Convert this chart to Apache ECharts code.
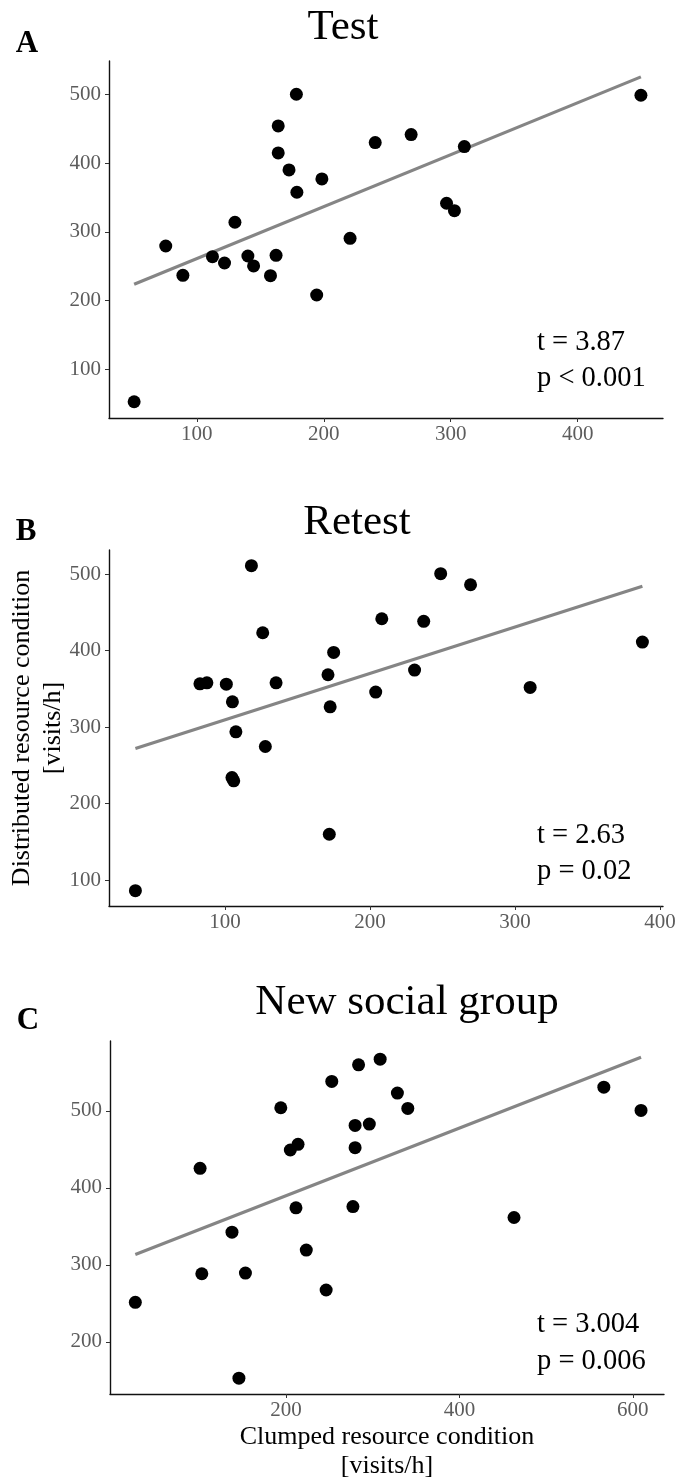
<!DOCTYPE html>
<html>
<head>
<meta charset="utf-8">
<title>Visits per hour: clumped vs distributed resource condition</title>
<script src="https://cdn.jsdelivr.net/npm/echarts@6/dist/echarts.min.js"></script>
<style>
  html, body { margin: 0; padding: 0; background: #ffffff; }
  #chart { width: 675px; height: 1479px; }
</style>
</head>
<body>
<div id="chart"></div>
<script>
// Individual birds: [clumped visits/h, distributed visits/h]
const testPoints = [
  [50.6, 53], [75.5, 279.4], [89, 236.8], [112.3, 263.9], [121.8, 254.7],
  [130, 313.9], [140.2, 264.9], [144.7, 250.4], [158, 236.3], [162.4, 265.9],
  [164.1, 454], [164.1, 414.7], [172.6, 390], [178.4, 500], [178.8, 357.5],
  [198.5, 376.9], [194.4, 208.2], [220.7, 290.6], [240.5, 429.7], [268.8, 441.3],
  [296.7, 341.5], [302.9, 330.8], [310.7, 423.9], [449.8, 498.5]
];
const retestPoints = [
  [38.2, 86], [82.7, 356.5], [87.5, 357.8], [100.9, 356], [105.1, 332.9],
  [107.5, 293.7], [104.8, 233.9], [106, 229.6], [118.2, 510.9], [126, 423.2],
  [127.8, 274.5], [135.2, 357.8], [171, 368.3], [172.5, 326.4], [174.9, 397.5],
  [171.9, 159.8], [203.9, 345.6], [208.1, 441.5], [230.7, 374.4], [237, 438.1],
  [248.7, 500.4], [269.3, 486], [310.4, 351.7], [387.8, 411]
];
const newGroupPoints = [
  [26.2, 251.4], [100.9, 425.3], [102.9, 288.5], [137.7, 342.5], [145.7, 153],
  [153.2, 289.4], [194, 503.9], [205, 449.1], [213.9, 456.4], [211.5, 374],
  [223.4, 319.2], [246.3, 267.4], [252.8, 538], [277.2, 375.7], [279.7, 481],
  [279.7, 452.1], [283.7, 559.6], [296.1, 482.7], [308.6, 566.9], [328.5, 522.9],
  [340.5, 503], [463, 361.5], [566.6, 530.6], [609.5, 500.4]
];

// Fitted regression lines (end points over the observed range)
const testFit = [[50.6, 223.7], [449.8, 525.2]];
const retestFit = [[38.2, 271.9], [387.8, 484]];
const newGroupFit = [[26.2, 313.6], [609.5, 569.5]];

// Axis tick values
const testXTicks = [100, 200, 300, 400];
const testYTicks = [100, 200, 300, 400, 500];
const retestXTicks = [100, 200, 300, 400];
const retestYTicks = [100, 200, 300, 400, 500];
const newGroupXTicks = [200, 400, 600];
const newGroupYTicks = [200, 300, 400, 500];

// Panel texts
const panelTitles = ['Test', 'Retest', 'New social group'];
const panelLetters = ['A', 'B', 'C'];
const panelStats = [
  ['t = 3.87', 'p < 0.001'],
  ['t = 2.63', 'p = 0.02'],
  ['t = 3.004', 'p = 0.006']
];
const yAxisTitle = 'Distributed resource condition\n[visits/h]';
const xAxisTitle = 'Clumped resource condition\n[visits/h]';

const SERIF = "'Liberation Serif', 'Times New Roman', Times, serif";

const chart = echarts.init(document.getElementById('chart'), null, { renderer: 'canvas' });

const grids = [
  { left: 109, top: 61, width: 554, height: 357 },
  { left: 109, top: 550, width: 554, height: 356 },
  { left: 110, top: 1041, width: 554, height: 353 }
].map(g => Object.assign({ containLabel: false, outerBoundsMode: 'none' }, g));

function axisCommon(ticks, margin) {
  return {
    splitLine: { show: false },
    axisLine: { show: true, onZero: false, lineStyle: { color: '#111', width: 1.4 } },
    axisTick: { show: true, length: 4, lineStyle: { color: '#333', width: 1 }, customValues: ticks },
    axisLabel: {
      show: true, margin, color: '#5c5c5c', fontFamily: SERIF, fontSize: 21,
      customValues: ticks, formatter: v => String(v)
    }
  };
}
function xAxisFor(gridIndex, min, max, ticks, extra) {
  return Object.assign({ type: 'value', gridIndex, min, max }, axisCommon(ticks, 6), extra || {});
}
function yAxisFor(gridIndex, min, max, ticks, extra) {
  return Object.assign({ type: 'value', gridIndex, min, max }, axisCommon(ticks, 8), extra || {});
}

function scatterSeries(idx, data) {
  return {
    type: 'scatter', xAxisIndex: idx, yAxisIndex: idx, data,
    symbol: 'circle', symbolSize: 13,
    itemStyle: { color: '#000', opacity: 1 }, z: 3, silent: true
  };
}
function fitSeries(idx, data) {
  return {
    type: 'line', xAxisIndex: idx, yAxisIndex: idx, data,
    showSymbol: false, symbol: 'none',
    lineStyle: { color: '#858585', width: 3.2 }, z: 2, silent: true
  };
}

// Titles, panel letters and test statistics
const titleCenters = [[343, 28], [357, 523], [407, 1003]];
const letterCenters = [[27, 44], [26, 532], [28, 1021]];
const statRows = [[343, 379], [836, 872], [1325, 1362]];
const graphics = [];
panelTitles.forEach((t, i) => {
  graphics.push({
    type: 'text', silent: true,
    style: {
      x: titleCenters[i][0], y: titleCenters[i][1], text: t,
      font: '43px ' + SERIF, fill: '#000', align: 'center', verticalAlign: 'middle'
    }
  });
  graphics.push({
    type: 'text', silent: true,
    style: {
      x: letterCenters[i][0], y: letterCenters[i][1], text: panelLetters[i],
      font: 'bold 31px ' + SERIF, fill: '#000', align: 'center', verticalAlign: 'middle'
    }
  });
  panelStats[i].forEach((s, j) => {
    graphics.push({
      type: 'text', silent: true,
      style: {
        x: 537, y: statRows[i][j], text: s,
        font: '28.5px ' + SERIF, fill: '#000', align: 'left', verticalAlign: 'middle'
      }
    });
  });
});

const option = {
  backgroundColor: '#ffffff',
  animation: false,
  grid: grids,
  xAxis: [
    xAxisFor(0, 30.8, 467.2, testXTicks),
    xAxisFor(1, 20, 402, retestXTicks),
    xAxisFor(2, -3, 636, newGroupXTicks, {
      name: xAxisTitle, nameLocation: 'middle', nameGap: 29, nameMoveOverlap: false,
      nameTextStyle: { fontFamily: SERIF, fontSize: 26, color: '#000', lineHeight: 29 }
    })
  ],
  yAxis: [
    yAxisFor(0, 29.4, 548.3, testYTicks),
    yAxisFor(1, 66, 531.4, retestYTicks, {
      name: yAxisTitle, nameLocation: 'middle', nameGap: 40, nameRotate: 90,
      nameMoveOverlap: false,
      nameTextStyle: { fontFamily: SERIF, fontSize: 26, color: '#000', lineHeight: 31 }
    }),
    yAxisFor(2, 132.5, 590.5, newGroupYTicks)
  ],
  series: [
    fitSeries(0, testFit), scatterSeries(0, testPoints),
    fitSeries(1, retestFit), scatterSeries(1, retestPoints),
    fitSeries(2, newGroupFit), scatterSeries(2, newGroupPoints)
  ],
  graphic: graphics
};

chart.setOption(option);
</script>
</body>
</html>
